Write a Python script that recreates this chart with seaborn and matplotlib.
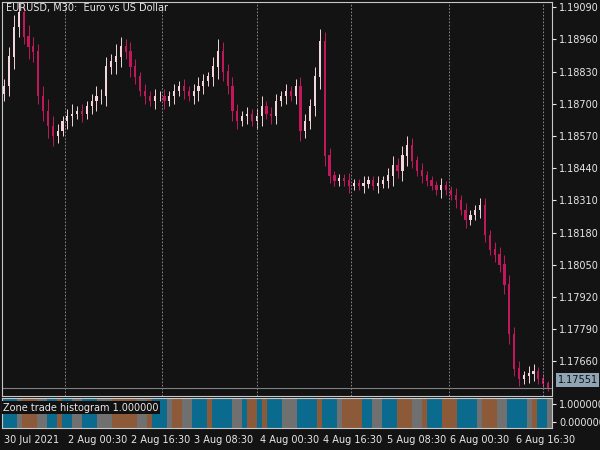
"""EURUSD M30 candles with zone trade histogram"""

import seaborn as sns
import matplotlib.pyplot as plt
import numpy as np

closes = [
    1.18770, 1.18890, 1.19010, 1.19070, 1.18970, 1.18930, 1.18910, 1.18730, 1.18670, 1.18610,
    1.18570, 1.18590, 1.18630, 1.18650, 1.18658, 1.18670, 1.18658, 1.18690, 1.18710, 1.18730,
    1.18730, 1.18850, 1.18870, 1.18890, 1.18930, 1.18910, 1.18850, 1.18810, 1.18750, 1.18730,
    1.18710, 1.18730, 1.18730, 1.18710, 1.18730, 1.18750, 1.18770, 1.18750, 1.18730, 1.18750,
    1.18770, 1.18790, 1.18810, 1.18850, 1.18910, 1.18830, 1.18770, 1.18670, 1.18630, 1.18650,
    1.18658, 1.18630, 1.18650, 1.18690, 1.18658, 1.18650, 1.18710, 1.18730, 1.18750, 1.18730,
    1.18770, 1.18590, 1.18630, 1.18690, 1.18810, 1.18950, 1.18490, 1.18410, 1.18390, 1.18398,
    1.18390, 1.18370, 1.18378, 1.18370, 1.18378, 1.18390, 1.18370, 1.18378, 1.18390, 1.18410,
    1.18450, 1.18430, 1.18490, 1.18530, 1.18470, 1.18430, 1.18410, 1.18390, 1.18370, 1.18350,
    1.18370, 1.18350, 1.18330, 1.18310, 1.18270, 1.18230, 1.18250, 1.18270, 1.18290, 1.18170,
    1.18110, 1.18090, 1.18050, 1.17970, 1.17770, 1.17630, 1.17590, 1.17602, 1.17610, 1.17618,
    1.17590, 1.17570, 1.17551,
]
wicks = [
    0.0003, 0.0004, 0.0005, 0.0004, 0.0003, 0.0005, 0.0004, 0.0003, 0.0004, 0.0005,
    0.0004, 0.0003, 0.0002, 0.0003, 0.0004, 0.0002, 0.0003, 0.0002, 0.0003, 0.0004,
    0.0003, 0.0004, 0.0003, 0.0005, 0.0004, 0.0003, 0.0004, 0.0003, 0.0002, 0.0003,
    0.0002, 0.0003, 0.0002, 0.0003, 0.0002, 0.0003, 0.0002, 0.0003, 0.0002, 0.0003,
    0.0004, 0.0003, 0.0002, 0.0004, 0.0005, 0.0004, 0.0003, 0.0004, 0.0003, 0.0002,
    0.0003, 0.0002, 0.0003, 0.0004, 0.0002, 0.0003, 0.0003, 0.0002, 0.0003, 0.0002,
    0.0003, 0.0004, 0.0003, 0.0003, 0.0004, 0.0005, 0.0004, 0.0003, 0.0002, 0.0002,
    0.0002, 0.0003, 0.0002, 0.0002, 0.0003, 0.0002, 0.0002, 0.0003, 0.0002, 0.0003,
    0.0004, 0.0003, 0.0004, 0.0004, 0.0003, 0.0002, 0.0003, 0.0002, 0.0002, 0.0002,
    0.0003, 0.0002, 0.0002, 0.0003, 0.0002, 0.0003, 0.0002, 0.0002, 0.0003, 0.0003,
    0.0002, 0.0003, 0.0003, 0.0004, 0.0004, 0.0003, 0.0003, 0.0002, 0.0003, 0.0003,
    0.0002, 0.0002, 0.0001,
]
zones = (
    "bbbgoooggbbobbggbbbgggoooooggobbbgooggbbbobbbbggboobobbbgggbbbbobbbgoooobbggb"
    "bboooggobbbooobbbbgoooggbbbbgobbg"
)
price_ticks = [1.19090, 1.18960, 1.18830, 1.18700, 1.18570, 1.18440, 1.18310,
               1.18180, 1.18050, 1.17920, 1.17790, 1.17660]
date_labels = ["30 Jul 2021", "2 Aug 00:30", "2 Aug 16:30", "3 Aug 08:30", "4 Aug 00:30",
               "4 Aug 16:30", "5 Aug 08:30", "6 Aug 00:30", "6 Aug 16:30"]
date_pos = [0, 13, 26, 39, 52.5, 65.5, 78.5, 91.5, 105]
grid_pos = [12.5, 32.5, 52, 71.5, 91.5, 111]

BG = "#131313"
FG = "#e8e8e8"
sns.set_style("dark", {"axes.facecolor": BG, "figure.facecolor": BG})
plt.rcParams["font.family"] = ["DejaVu Sans"]

n = len(closes)
idx = np.arange(n)
c = np.array(closes)
o = np.r_[c[0] - 0.0003, c[:-1]]
w = np.array(wicks)
hi = np.maximum(o, c) + w
lo = np.minimum(o, c) - w
bull = c >= o
col = np.where(bull, "#f2d6dc", "#c2185b")

fig = plt.figure(figsize=(6, 4.5), dpi=100)
ax = fig.add_axes([0.003, 0.12, 0.917, 0.875])
hx = fig.add_axes([0.003, 0.049, 0.917, 0.066])

ax.vlines(idx, lo, hi, colors=col, linewidth=0.7)
ax.bar(idx, np.abs(c - o) + 0.00002, bottom=np.minimum(o, c), color=col, width=0.45,
       linewidth=0)
for g in grid_pos:
    ax.axvline(g, color="#9a9a9a", linestyle=(0, (2, 2)), linewidth=0.6)
ax.axhline(closes[-1], color="#808080", linewidth=0.8)
ax.set_xlim(-0.5, n - 0.2)
ax.set_ylim(1.17520, 1.19110)
ax.yaxis.tick_right()
ax.set_yticks(price_ticks)
ax.set_yticklabels([f"{t:.5f}" for t in price_ticks], color=FG, fontsize=7)
ax.tick_params(axis="y", length=3, color=FG, pad=2)
ax.set_xticks([])
for s in ax.spines.values():
    s.set_color("#c8c8c8")
    s.set_linewidth(0.8)
ax.text(0.008, 0.997, "EURUSD, M30:  Euro vs US Dollar", transform=ax.transAxes,
        color=FG, fontsize=7, va="top")
ax.text(1.01, 1.17585, f"{closes[-1]:.5f}", transform=ax.get_yaxis_transform(),
        color="#111111", fontsize=7, va="center",
        bbox=dict(facecolor="#8fa4b4", edgecolor="none", pad=1.2))

palette = {"b": "#0b6b8e", "o": "#8c5a38", "g": "#707070"}
zidx = np.arange(len(zones))
hx.bar(zidx, np.full(len(zones), 1.6), bottom=-0.3, width=1.0, linewidth=0,
       color=[palette[z] for z in zones])
hx.set_xlim(-0.5, len(zones) - 0.5)
hx.set_ylim(-0.3, 1.3)
hx.yaxis.tick_right()
hx.set_yticks([1.0, 0.0])
hx.set_yticklabels(["1.000000", "0.000000"], color=FG, fontsize=7)
hx.tick_params(axis="y", length=3, color=FG, pad=2)
hx.set_xticks(np.array(date_pos) * (len(zones) / n))
hx.set_xticklabels(date_labels, color=FG, fontsize=7, ha="left")
hx.tick_params(axis="x", length=3, color=FG, pad=2)
for s in hx.spines.values():
    s.set_color("#c8c8c8")
    s.set_linewidth(0.8)
hx.text(0.003, 0.85, "Zone trade histogram 1.000000", transform=hx.transAxes,
        color=FG, fontsize=7, va="top",
        bbox=dict(facecolor="#111111", edgecolor="none", pad=1.0))

fig.savefig("out.png", dpi=100, facecolor=BG)
